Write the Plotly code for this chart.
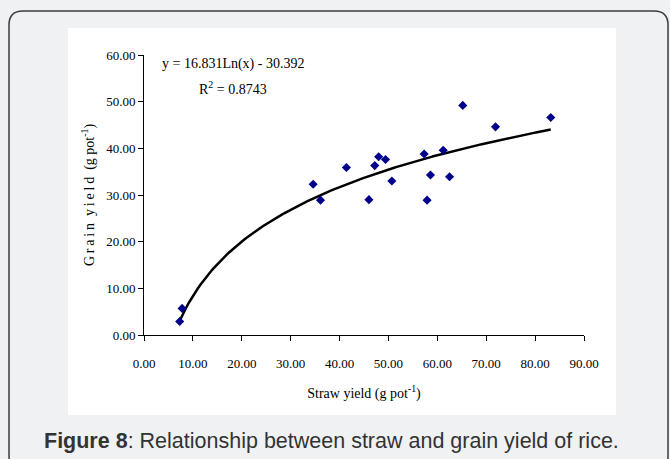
import numpy as np
import plotly.graph_objects as go

# Straw vs grain yield per pot (g pot^-1)
straw_yield = [7.3, 7.8, 34.6, 36.1, 41.4, 46.0, 47.2, 48.0, 49.4, 50.7,
               57.3, 57.9, 58.6, 61.2, 62.5, 65.2, 71.9, 83.2]
grain_yield = [2.9, 5.7, 32.3, 28.9, 35.9, 29.0, 36.3, 38.2, 37.6, 33.0,
               38.8, 28.9, 34.3, 39.6, 33.9, 49.2, 44.6, 46.6]

# Logarithmic trendline: y = a*ln(x) + b
fit_a = 16.831
fit_b = -30.392
fit_r2 = 0.8743

x_ticks = [0, 10, 20, 30, 40, 50, 60, 70, 80, 90]
y_ticks = [0, 10, 20, 30, 40, 50, 60]

W, H = 670, 459
L, R, T, B = 144, 86, 55, 124
PW, PH = W - L - R, H - T - B


def px(x):
    return (x - L) / PW


def py(y):
    return (H - B - y) / PH


serif = "Liberation Serif, Times New Roman, serif"
ts = "\u2009"

fx = np.linspace(min(straw_yield), max(straw_yield), 200)
fy = fit_a * np.log(fx) + fit_b

fig = go.Figure()
fig.add_trace(go.Scatter(x=fx, y=fy, mode="lines",
                         line=dict(color="black", width=2.5),
                         hoverinfo="skip", showlegend=False))
fig.add_trace(go.Scatter(x=straw_yield, y=grain_yield, mode="markers",
                         marker=dict(symbol="diamond", size=7, color="#00008B"),
                         showlegend=False))

# Rounded frame around the figure panel
x0, x1, y0, y1, r = 9, 668, 11, 470, 14
frame = (
    f"M {px(x0)},{py(y0 + r)} Q {px(x0)},{py(y0)} {px(x0 + r)},{py(y0)} "
    f"L {px(x1 - r)},{py(y0)} Q {px(x1)},{py(y0)} {px(x1)},{py(y0 + r)} "
    f"L {px(x1)},{py(y1 - r)} Q {px(x1)},{py(y1)} {px(x1 - r)},{py(y1)} "
    f"L {px(x0 + r)},{py(y1)} Q {px(x0)},{py(y1)} {px(x0)},{py(y1 - r)} Z"
)
fig.add_shape(type="path", path=frame, xref="paper", yref="paper",
              line=dict(color="#3c3c3c", width=1.5), fillcolor="#f0f1f3",
              layer="below")
# White chart area
fig.add_shape(type="rect", xref="paper", yref="paper",
              x0=px(68), x1=px(616), y0=py(415), y1=py(28),
              line=dict(width=0), fillcolor="white", layer="below")

fig.add_annotation(xref="paper", yref="paper", x=px(233), y=py(64),
                   xanchor="center", yanchor="middle",
                   text=f"y = {fit_a}Ln(x) - {abs(fit_b)}", showarrow=False,
                   font=dict(family=serif, size=14, color="black"))
fig.add_annotation(xref="paper", yref="paper", x=px(233), y=py(88),
                   xanchor="center", yanchor="middle",
                   text=f"R<sup>2</sup> = {fit_r2}", showarrow=False,
                   font=dict(family=serif, size=14, color="black"))

fig.add_annotation(xref="paper", yref="paper", x=px(42), y=py(441),
                   xanchor="left", yanchor="middle",
                   text="<b>Figure 8</b>: Relationship between straw and grain yield of rice.",
                   showarrow=False,
                   font=dict(family="Liberation Sans, Arial, sans-serif", size=21.5, color="#333333"))

axis_common = dict(showgrid=False, zeroline=False, showline=True, linecolor="black",
                   linewidth=1, ticks="outside", ticklen=5, tickcolor="black",
                   tickformat=".2f", tickfont=dict(family=serif, size=13, color="black"))

fig.update_xaxes(range=[0, 90], tickvals=x_ticks, ticklabelstandoff=11,
                 title=dict(text="Straw yield (g pot<sup>-1</sup>)",
                            font=dict(family=serif, size=14, color="black"), standoff=18),
                 **axis_common)
ylab = ts.join("Grain") + "  " + ts.join("yield") + "  (g pot<sup>-1</sup>)"
fig.update_yaxes(range=[0, 60], tickvals=y_ticks,
                 title=dict(text=ylab,
                            font=dict(family=serif, size=14, color="black"), standoff=8),
                 **axis_common)

fig.update_layout(width=W, height=H, margin=dict(l=L, r=R, t=T, b=B),
                  paper_bgcolor="#f0f1f3", plot_bgcolor="rgba(0,0,0,0)",
                  showlegend=False)

fig.write_html("out.html")
